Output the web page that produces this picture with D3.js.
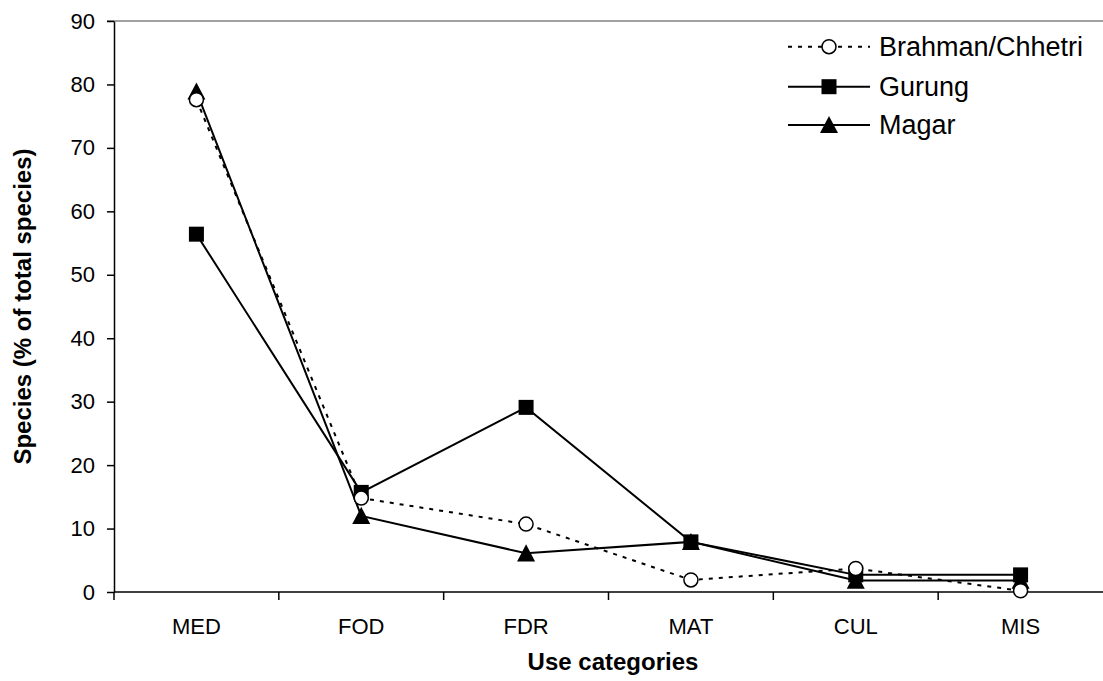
<!DOCTYPE html>
<html>
<head>
<meta charset="utf-8">
<script src="https://cdn.jsdelivr.net/npm/d3@7/dist/d3.min.js"></script>
<style>
  html, body { margin: 0; padding: 0; background: #fff; }
  svg { display: block; font-family: "Liberation Sans", Arial, sans-serif; }
</style>
</head>
<body>
<svg id="chart" width="1103" height="681"></svg>
<script>
// Use categories along the x axis
const categories = ["MED", "FOD", "FDR", "MAT", "CUL", "MIS"];

// Species share (% of total species) per ethnic group
const brahmanChhetri = [77.6, 14.8, 10.7, 1.9, 3.7, 0.2];
const gurung         = [56.4, 15.7, 29.1, 7.9, 2.7, 2.7];
const magar          = [78.9, 12.0, 6.1, 7.9, 1.8, 1.8];

// Y axis ticks
const yTicks = [0, 10, 20, 30, 40, 50, 60, 70, 80, 90];

const series = [
  { name: "Brahman/Chhetri", values: brahmanChhetri, marker: "circle",   dash: "4,6" },
  { name: "Gurung",          values: gurung,         marker: "square",   dash: null },
  { name: "Magar",           values: magar,          marker: "triangle", dash: null }
];

const svg = d3.select("#chart");
const plotLeft = 114, plotRight = 1103, plotTop = 21, plotBottom = 592;

const x = d3.scaleBand().domain(categories).range([plotLeft, plotRight]).padding(0);
const y = d3.scaleLinear().domain([0, 90]).range([plotBottom, plotTop]);
const cx = c => x(c) + x.bandwidth() / 2;

// top border of the plot area
svg.append("line")
  .attr("x1", plotLeft - 7).attr("x2", plotRight)
  .attr("y1", y(90)).attr("y2", y(90))
  .attr("stroke", "#808080").attr("stroke-width", 1.5);

// Y axis
const yAxis = svg.append("g")
  .attr("transform", `translate(${plotLeft},0)`)
  .call(d3.axisLeft(y).tickValues(yTicks).tickSize(7).tickSizeOuter(0).tickPadding(12));
yAxis.select(".domain").attr("stroke", "#000").attr("stroke-width", 1.5);
yAxis.selectAll(".tick line").attr("stroke", "#000").attr("stroke-width", 1.5);
yAxis.selectAll(".tick text")
  .attr("font-size", 22).attr("fill", "#000")
  .attr("font-family", "Liberation Sans, Arial, sans-serif");

// X axis: labels centred in each band, ticks at band edges
const xAxis = svg.append("g")
  .attr("transform", `translate(0,${plotBottom})`)
  .call(d3.axisBottom(x).tickSize(0).tickPadding(26).tickSizeOuter(0));
xAxis.select(".domain").remove();
xAxis.selectAll(".tick text")
  .attr("font-size", 22).attr("fill", "#000")
  .attr("font-family", "Liberation Sans, Arial, sans-serif");

svg.append("line")
  .attr("x1", plotLeft).attr("x2", plotRight)
  .attr("y1", plotBottom).attr("y2", plotBottom)
  .attr("stroke", "#000").attr("stroke-width", 1.5);

const edges = categories.map(c => x(c));
svg.append("g").selectAll("line").data(edges).join("line")
  .attr("x1", d => d).attr("x2", d => d)
  .attr("y1", plotBottom).attr("y2", plotBottom + 8)
  .attr("stroke", "#000").attr("stroke-width", 1.5);

// Axis titles
svg.append("text")
  .attr("x", 613).attr("y", 670)
  .attr("text-anchor", "middle")
  .attr("font-size", 24).attr("font-weight", "bold")
  .text("Use categories");

svg.append("text")
  .attr("transform", `translate(22,${(plotTop + plotBottom) / 2}) rotate(-90)`)
  .attr("text-anchor", "middle")
  .attr("dominant-baseline", "central")
  .attr("font-size", 24).attr("font-weight", "bold")
  .text("Species (% of total species)");

// Marker drawing
function drawMarker(g, type, px, py) {
  if (type === "circle") {
    g.append("circle").attr("cx", px).attr("cy", py).attr("r", 7)
      .attr("fill", "#fff").attr("stroke", "#000").attr("stroke-width", 1.5);
  } else if (type === "square") {
    g.append("rect").attr("x", px - 7.5).attr("y", py - 7.5)
      .attr("width", 15).attr("height", 15).attr("fill", "#000");
  } else {
    const s = 9;
    g.append("path")
      .attr("d", `M${px},${py - s}L${px + s},${py + s * 0.9}L${px - s},${py + s * 0.9}Z`)
      .attr("fill", "#000");
  }
}

const line = d3.line().x(d => cx(d.c)).y(d => y(d.v));

// Draw lines then markers (Magar underneath, then Gurung, then Brahman/Chhetri)
const order = [series[2], series[1], series[0]];
order.forEach(s => {
  const pts = categories.map((c, i) => ({ c, v: s.values[i] }));
  const g = svg.append("g");
  g.append("path").datum(pts)
    .attr("d", line)
    .attr("fill", "none")
    .attr("stroke", "#000")
    .attr("stroke-width", 2)
    .attr("stroke-dasharray", s.dash);
  pts.forEach(p => drawMarker(g, s.marker, cx(p.c), y(p.v)));
});

// Legend
const legendRows = [46.7, 86.7, 125];
series.forEach((s, i) => {
  const g = svg.append("g");
  const ly = legendRows[i];
  g.append("line")
    .attr("x1", 788).attr("x2", 870)
    .attr("y1", ly).attr("y2", ly)
    .attr("stroke", "#000").attr("stroke-width", 2)
    .attr("stroke-dasharray", s.dash);
  drawMarker(g, s.marker, 829, ly);
  g.append("text")
    .attr("x", 879).attr("y", ly)
    .attr("dominant-baseline", "central")
    .attr("font-size", 27)
    .text(s.name);
});
</script>
</body>
</html>
